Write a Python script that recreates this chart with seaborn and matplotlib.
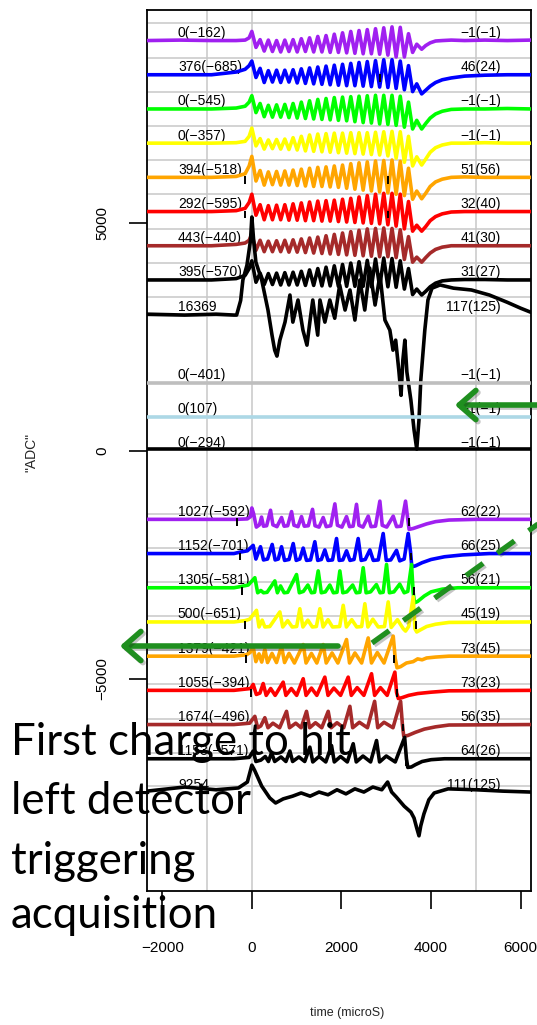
import numpy as np
import pandas as pd
import matplotlib
matplotlib.use("Agg")
import matplotlib.pyplot as plt
import matplotlib.patheffects as pe
import seaborn as sns

# ------------------------------------------------------------------ data
X_TICKS = [-2000, 0, 2000, 4000, 6000]
X_TICKLABELS = ["\u22122000", "0", "2000", "4000", "6000"]
Y_TICKS = [-5000, 0, 5000]
Y_TICKLABELS = ["\u22125000", "0", "5000"]
V_GRID = [-1000, 0, 5000]
H_GRID = [9375, 8625, 7875, 7125, 6375, 5625, 4875, 4125, 3375, 2950,
          -1380, -2130, -2880, -3630, -4370, -5120, -5880, -6630, -7350]

# shared time grid of the upper (oscillating) traces, microseconds
T_PRE = [-2340, -1600, -900, -350, -150, -60]
T_OSC = [0, 92, 184, 276, 368, 460, 552, 644, 736, 828, 920, 1012, 1104,
         1196, 1288, 1380, 1472, 1564, 1656, 1748, 1840, 1932, 2024, 2116,
         2208, 2300, 2392, 2484, 2576, 2668, 2760, 2852, 2944, 3036, 3128,
         3220, 3312, 3404, 3496, 3588, 3680]
T_POST = [3790, 3880, 3980, 4100, 4250, 4450, 4750, 5200, 5700, 6230]
T_TOP = T_PRE + T_OSC + T_POST

# values relative to each trace's own offset (ADC)
purple_top = ([0, 10, 0, 0, 10, 60] +
              [200, -150, 20, -230, 10, -240, 0, -250, 10, -240, 20, -250, 40, -240,
               60, -250, 90, -250, 110, -260, 140, -260, 170, -270, 200, -280, 220,
               -290, 240, -290, 260, -300, 280, -320, 300, -360, 290, -360, 150, -260, -80] +
              [-190, -110, -50, -10, 0, 10, 0, 10, 0, 10])
blue_top = ([0, 0, 0, 60, 120, 200] +
            [300, -60, 140, -170, 90, -160, 100, -170, 100, -160, 110, -180, 130, -190,
             150, -200, 170, -210, 190, -220, 210, -230, 230, -240, 250, -240, 270,
             -250, 290, -260, 310, -270, 330, -280, 330, -300, 300, -330, 200, -370, -200] +
            [-420, -340, -250, -170, -110, -70, -30, -10, 0, 0])
green_top = ([0, 0, 0, 20, 60, 150] +
             [290, -80, 120, -170, 80, -180, 90, -180, 100, -190, 120, -200, 150, -210,
              180, -220, 210, -230, 230, -240, 250, -250, 260, -260, 270, -280, 280,
              -300, 290, -310, 300, -330, 300, -340, 300, -360, 280, -400, 150, -440, -250] +
             [-440, -320, -200, -110, -50, -10, 0, 0, 10, 0])
yellow_top = ([0, 0, 0, 10, 40, 150] +
              [330, -60, 100, -130, 70, -120, 80, -130, 90, -140, 120, -150, 150, -170,
               180, -180, 200, -190, 210, -200, 220, -210, 220, -220, 230, -230, 230,
               -240, 230, -250, 240, -260, 250, -280, 260, -330, 250, -420, 150, -500, -300] +
              [-480, -350, -200, -100, -40, 0, 0, 10, 0, 0])
orange_top = ([0, 0, 0, 20, 80, 250] +
              [460, -80, 150, -170, 120, -160, 130, -170, 140, -170, 160, -180, 180, -190,
               200, -200, 220, -200, 230, -210, 250, -220, 270, -240, 300, -260, 320,
               -280, 340, -300, 360, -320, 370, -340, 380, -370, 350, -400, 200, -480, -300] +
              [-470, -350, -200, -100, -40, 0, 10, 0, 0, 0])
red_top = ([0, 0, 0, 20, 70, 200] +
           [380, -80, 150, -180, 130, -180, 140, -180, 150, -190, 170, -190, 190, -200,
            210, -200, 230, -210, 240, -210, 250, -220, 270, -230, 290, -240, 320,
            -250, 350, -260, 380, -270, 400, -290, 400, -320, 380, -380, 220, -430, -300] +
           [-430, -330, -200, -110, -50, -10, 0, 0, 0, 0])
brown_top = ([0, 0, 0, 30, 60, 120] +
             [260, -100, 120, -130, 100, -130, 110, -130, 120, -140, 130, -140, 150, -150,
              170, -160, 190, -170, 220, -180, 250, -190, 280, -200, 310, -210, 340,
              -220, 370, -230, 380, -240, 390, -240, 380, -260, 350, -300, 200, -360, -250] +
             [-360, -260, -160, -80, -30, 0, 0, 0, 0, 0])
black5_top = ([0, 0, 0, 30, 100, 250] +
              [420, -50, 150, -100, 140, -100, 150, -110, 160, -110, 170, -110, 190, -120,
               220, -120, 250, -130, 280, -130, 310, -140, 340, -140, 370, -140, 400,
               -140, 430, -150, 460, -150, 480, -150, 470, -160, 420, -200, 250, -320, -200] +
              [-330, -250, -150, -70, -20, 0, 10, 10, 0, 0])

# the saturated "16369" channel
T_SAT = [-2340, -1500, -800, -400, -340, -250, -200, -110, -30, 0, 40, 90, 220,
         360, 450, 510, 560, 625, 740, 850, 915, 1030, 1140, 1230, 1300, 1360,
         1470, 1520, 1630, 1740, 1850, 1960, 2080, 2190, 2300, 2410, 2520, 2630,
         2750, 2860, 2970, 3080, 3150, 3210, 3280, 3330, 3370, 3415, 3460, 3550,
         3620, 3680, 3730, 3770, 3860, 3930, 4020, 4200, 4500, 4900, 5300, 5700,
         6000, 6230]
V_SAT = [0, -20, 0, -20, -20, 300, 750, 1070, 1620, 2130, 1620, 1140, 750,
         90, -460, -790, -920, -570, -175, 420, -175, 310, -350, -680, -130, 310,
         -460, 310, -175, 310, -90, 640, 90, 530, -130, 750, 90, 1010,
         200, 860, -130, -350, -790, -570, -1230, -1780, -1010, -570, -1270, -1890,
         -2540, -2960, -2320, -1450, -350, 310, 570, 640, 570, 530, 420, 260,
         130, 40]

T_FLAT = [-2340, 6230]

# lower (spiky) group: (time, value) vertices
T_PURPLE_B = [-2340, -1200, -350, -100, -30, 0, 40, 100, 170, 216, 260, 330, 417, 470,
              560, 663, 720, 800, 886, 940, 1030, 1108, 1170, 1260, 1354, 1410, 1500,
              1592, 1660, 1760, 1853, 1910, 2010, 2113, 2180, 2260, 2336, 2390, 2480,
              2597, 2660, 2760, 2857, 2910, 3010, 3155, 3230, 3330, 3430, 3480, 3510,
              3600, 3750, 3900, 4100, 4400, 5000, 6230]
V_PURPLE_B = [0, 0, 0, 10, 60, 250, 120, -170, -120, 50, -150, -140, 200, -120,
              -160, 40, -150, -140, 170, -130, -160, 60, -150, -140, 220, -140, -170,
              40, -160, -140, 340, -130, -170, 60, -160, -150, 330, -130, -170,
              70, -160, -150, 400, -130, -170, 70, -160, -150, 400, 0, -220,
              -200, -150, -100, -50, -15, 0, 0]
T_BLUE_B = [-2340, -1200, -400, -270, -100, 30, 90, 193, 260, 350, 454, 520, 590, 662,
            730, 830, 923, 990, 1070, 1146, 1220, 1310, 1406, 1470, 1550, 1629, 1700,
            1800, 1890, 1950, 2030, 2113, 2190, 2280, 2373, 2440, 2530, 2634, 2710,
            2820, 2931, 3000, 3100, 3229, 3300, 3400, 3489, 3540, 3570, 3650, 3800,
            4000, 4300, 4700, 5300, 6230]
V_BLUE_B = [0, 0, 0, 30, 60, 180, -120, 150, -140, -120, 200, -140, -120, 150,
            -150, -130, 220, -150, -120, 120, -150, -140, 260, -150, -130, 80, -150,
            -140, 330, -150, -140, 60, -150, -130, 330, -150, -130, 80, -150,
            -140, 440, -150, -140, 70, -160, -120, 440, 50, -290, -270, -200,
            -130, -70, -30, 0, 0]
T_GREEN_B = [-2340, -1200, -400, -230, -80, 67, 130, 200, 260, 340, 513, 570, 640, 720,
             800, 997, 1060, 1150, 1250, 1330, 1400, 1481, 1550, 1640, 1740, 1820,
             1900, 1964, 2030, 2120, 2250, 2330, 2410, 2485, 2550, 2650, 2780, 2860,
             2930, 3006, 3070, 3170, 3300, 3400, 3480, 3564, 3600, 3630, 3700, 3850,
             4000, 4250, 4600, 6230]
V_GREEN_B = [0, 0, 0, 30, 60, 220, -110, -60, -110, -100, 150, -110, 40, -110,
             -100, 290, -110, -80, 60, -110, -100, 370, -110, -90, 60, -110,
             -100, 370, -110, -90, 60, -110, -100, 440, -110, -90, 70, -110,
             -100, 510, -110, -90, 80, -110, -80, 510, -100, -330, -300, -180,
             -90, -30, 0, 0]
T_YELLOW_B = [-2340, -1200, -400, -150, -50, 104, 160, 230, 290, 400, 625, 690, 800,
              900, 1000, 1071, 1140, 1250, 1350, 1440, 1518, 1590, 1700, 1800, 1960,
              2039, 2110, 2230, 2340, 2450, 2522, 2590, 2700, 2820, 2960, 3043, 3110,
              3250, 3380, 3430, 3500, 3601, 3640, 3680, 3750, 3900, 4100, 4400, 6230]
V_YELLOW_B = [0, 0, 0, 30, 60, 255, -110, 40, -110, -100, 220, -110, 30,
              -110, -100, 290, -110, 40, -110, -100, 290, -110, 50, -110, -100,
              365, -110, 50, -110, -100, 400, -110, 60, -110, -100, 440, -120,
              50, -150, -200, -100, 550, -150, -220, -180, -100, -50, -10, 0]
T_ORANGE_B = [-2340, -1200, -400, -120, -40, 30, 90, 160, 220, 290, 350, 450, 550, 662,
              730, 830, 950, 1146, 1210, 1330, 1450, 1592, 1660, 1790, 1920, 2113,
              2180, 2300, 2450, 2597, 2670, 2800, 2950, 3155, 3200, 3240, 3320, 3450,
              3600, 3700, 3800, 3900, 4100, 4400, 6230]
V_ORANGE_B = [0, 0, 0, 30, 80, 200, -120, 50, -130, 150, -140, 60, -140, 220,
              -140, 60, -150, 255, -150, 60, -150, 255, -150, 70, -150, 365,
              -150, 70, -150, 400, -150, 80, -150, 440, -50, -255, -230, -150,
              -120, -60, -80, -40, -20, 0, 0]
T_RED_B = [-2340, -1200, -400, -30, 30, 100, 180, 253, 320, 420, 520, 699, 760, 880,
           1000, 1146, 1210, 1330, 1450, 1629, 1700, 1830, 1980, 2150, 2220, 2350,
           2500, 2671, 2740, 2870, 3020, 3192, 3230, 3270, 3350, 3500, 3700, 4000,
           4400, 6230]
V_RED_B = [0, 0, 0, 40, 130, -90, -60, 150, -110, 40, -110, 180, -110, 40,
           -110, 255, -110, 50, -110, 290, -110, 50, -110, 290, -110, 60,
           -110, 365, -110, 60, -110, 400, -50, -180, -160, -110, -70, -40,
           -10, 0]
T_BROWN_B = [-2340, -1200, -400, -50, 67, 130, 200, 290, 360, 470, 620, 774, 840, 980,
             1100, 1220, 1290, 1420, 1560, 1704, 1770, 1900, 2050, 2188, 2250, 2400,
             2580, 2740, 2810, 2950, 3150, 3320, 3360, 3390, 3480, 3650, 3850, 4100,
             4400, 6230]
V_BROWN_B = [0, 0, 0, 30, 180, -70, -30, 150, -70, 30, -70, 290, -70, 30,
             -70, 290, -70, 40, -70, 290, -70, 40, -70, 400, -70, 50,
             -70, 510, -70, 50, -70, 510, 0, -255, -240, -170, -100, -50,
             -10, 0]
T_BLACK_B = [-2340, -1200, -400, -60, 30, 90, 200, 300, 370, 439, 510, 650, 760, 848,
             910, 1050, 1180, 1294, 1360, 1500, 1650, 1778, 1840, 1980, 2130, 2262,
             2330, 2480, 2650, 2783, 2850, 3000, 3200, 3410, 3450, 3480, 3560, 3650,
             3800, 4000, 4300, 6230]
V_BLACK_B = [0, 0, 0, 30, 170, -60, -30, 50, -60, 130, -60, 40, -60, 170,
             -60, 40, -60, 255, -70, 50, -70, 290, -70, 50, -70, 330,
             -70, 60, -70, 400, -70, 60, -70, 470, 0, -190, -180, -130,
             -60, -20, 0, 0]
T_SUM_B = [-2340, -1500, -800, -300, -100, 0, 60, 220, 400, 530, 700, 910, 1100, 1300,
           1500, 1700, 1900, 2100, 2300, 2500, 2700, 2900, 3030, 3120, 3225, 3400,
           3550, 3620, 3680, 3730, 3770, 3840, 3950, 4070, 4380, 5000, 5600, 6230]
V_SUM_B = [40, 130, 70, 110, 240, 610, 500, 150, -110, -220, -130, -70, 0, -70,
           20, -40, 70, -20, 90, 20, 130, 70, 240, 20, -90, -290,
           -420, -550, -770, -940, -720, -460, -150, 0, 90, 70, 40, 20]

# trace table: name, colour, offset, times, values, left label, right label
TRACES = [
    ("purple_t", "#A020F0", 9000, T_TOP, purple_top, "0(\u2212162)", "\u22121(\u22121)"),
    ("blue_t", "#0000FF", 8250, T_TOP, blue_top, "376(\u2212685)", "46(24)"),
    ("green_t", "#00FF00", 7500, T_TOP, green_top, "0(\u2212545)", "\u22121(\u22121)"),
    ("yellow_t", "#FFFF00", 6750, T_TOP, yellow_top, "0(\u2212357)", "\u22121(\u22121)"),
    ("orange_t", "#FFA500", 6000, T_TOP, orange_top, "394(\u2212518)", "51(56)"),
    ("red_t", "#FF0000", 5250, T_TOP, red_top, "292(\u2212595)", "32(40)"),
    ("brown_t", "#A52A2A", 4500, T_TOP, brown_top, "443(\u2212440)", "41(30)"),
    ("black5_t", "#000000", 3750, T_TOP, black5_top, "395(\u2212570)", "31(27)"),
    ("sat_t", "#000000", 3000, T_SAT, V_SAT, "16369", "117(125)"),
    ("gray_t", "#BEBEBE", 1500, T_FLAT, [0, 0], "0(\u2212401)", "\u22121(\u22121)"),
    ("lblue_t", "#ADD8E6", 750, T_FLAT, [0, 0], "0(107)", "\u22121(\u22121)"),
    ("black0_t", "#000000", 0, T_FLAT, [40, 40], "0(\u2212294)", "\u22121(\u22121)"),
    ("purple_b", "#A020F0", -1500, T_PURPLE_B, V_PURPLE_B, "1027(\u2212592)", "62(22)"),
    ("blue_b", "#0000FF", -2250, T_BLUE_B, V_BLUE_B, "1152(\u2212701)", "66(25)"),
    ("green_b", "#00FF00", -3000, T_GREEN_B, V_GREEN_B, "1305(\u2212581)", "56(21)"),
    ("yellow_b", "#FFFF00", -3750, T_YELLOW_B, V_YELLOW_B, "500(\u2212651)", "45(19)"),
    ("orange_b", "#FFA500", -4500, T_ORANGE_B, V_ORANGE_B, "1379(\u2212421)", "73(45)"),
    ("red_b", "#FF0000", -5250, T_RED_B, V_RED_B, "1055(\u2212394)", "73(23)"),
    ("brown_b", "#A52A2A", -6000, T_BROWN_B, V_BROWN_B, "1674(\u2212496)", "56(35)"),
    ("black_b", "#000000", -6750, T_BLACK_B, V_BLACK_B, "1153(\u2212571)", "64(26)"),
    ("sum_b", "#000000", -7500, T_SUM_B, V_SUM_B, "9254", "111(125)"),
]

# small black window markers: (trace offset, time)
MARKS = [(8250, 2860), (6000, -150), (6000, 3040), (5250, -150), (5250, 3040),
         (-1500, -340), (-1500, 3500), (-2250, -270), (-2250, 3560),
         (-3000, -230), (-3000, 3620), (-3750, -150), (-3750, 3660),
         (-4500, -120), (-4500, 3170), (-5250, -30), (-5250, 3240),
         (-6000, 3380), (-6750, 3450)]

NOTE_LINES = ["First charge to hit", "left detector", "triggering", "acquisition"]

# ------------------------------------------------------------------ figure
sns.set_theme(style="ticks")
plt.rcParams["font.family"] = ["Liberation Sans", "DejaVu Sans"]

W, H = 537, 1025
fig = plt.figure(figsize=(W / 100, H / 100), dpi=100)
ax = fig.add_axes([147 / W, 134 / H, 384 / W, 881 / H])

rows = []
for name, col, off, ts, vs, _, _ in TRACES:
    for t, v in zip(ts, vs):
        rows.append({"trace": name, "t": t, "v": off + v})
df = pd.DataFrame(rows)
names = [tr[0] for tr in TRACES]
palette = {tr[0]: tr[1] for tr in TRACES}

for h in H_GRID:
    ax.axhline(h, color="#c8c8c8", lw=1.1, zorder=1)
for v in V_GRID:
    ax.axvline(v, color="#c8c8c8", lw=1.1, zorder=1)

for name, col, off, ts, vs, ll, rl in TRACES:
    ax.text(-1650, off + 165, ll, ha="left", va="center", fontsize=10,
            color="black", zorder=2)
    ax.text(5560, off + 165, rl, ha="right", va="center", fontsize=10,
            color="black", zorder=2)

sns.lineplot(data=df, x="t", y="v", hue="trace", hue_order=names,
             palette=palette, estimator=None, sort=False, legend=False,
             linewidth=2.6, ax=ax, zorder=3)

for off, t in MARKS:
    ax.vlines(t, off - 150, off + 20, color="black", lw=1.4, zorder=4)

ax.set_xlim(-2340, 6230)
ax.set_ylim(-9650, 9670)
ax.set_xticks(X_TICKS)
ax.set_xticklabels(X_TICKLABELS)
ax.set_yticks(Y_TICKS)
ax.set_yticklabels(Y_TICKLABELS, rotation=90, va="center")
ax.tick_params(axis="both", direction="out", length=13, width=1.2,
               labelsize=11, color="black", labelcolor="black")
ax.tick_params(axis="x", pad=23)
ax.tick_params(axis="y", pad=14)
for s in ax.spines.values():
    s.set_visible(True)
    s.set_linewidth(1.3)
    s.set_color("black")
ax.set_xlabel("time (microS)", fontsize=9)
ax.set_ylabel('"ADC"', fontsize=10)
ax.xaxis.set_label_coords(0.52, -0.132)
ax.yaxis.set_label_coords(-0.284, 0.498)
ax.grid(False)

# ------------------------------------------------------------------ overlay
ov = fig.add_axes([0, 0, 1, 1])
ov.set_xlim(0, W)
ov.set_ylim(H, 0)
ov.axis("off")
ov.patch.set_alpha(0)

GREEN = "#1f8f1f"
shadow = [pe.SimpleLineShadow(offset=(1.5, -1.5), shadow_color="k", alpha=0.25),
          pe.Normal()]
for tip, tail in [((455, 405), (560, 405)), ((120, 646), (338, 646))]:
    ov.annotate("", xy=tip, xytext=tail,
                arrowprops=dict(arrowstyle="->,head_length=0.4,head_width=0.35",
                                lw=4, color=GREEN, shrinkA=0, shrinkB=0,
                                mutation_scale=30, path_effects=shadow))
ov.plot([372, 545], [643, 519], color=GREEN, lw=3.8, linestyle=(0, (4, 3.3)),
        dash_capstyle="butt", path_effects=shadow)

for txt, yb in zip(NOTE_LINES, [755, 814, 874, 928]):
    ov.text(11, yb, txt, fontsize=31.5, family=["Lato", "DejaVu Sans"],
            va="baseline", ha="left", color="black")

fig.savefig("out.png", dpi=100)
